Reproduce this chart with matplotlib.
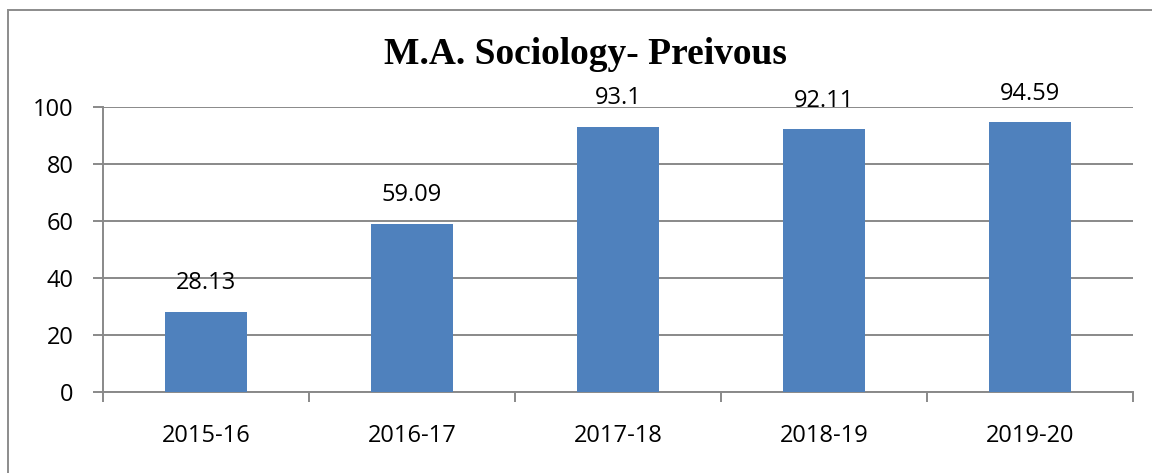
import matplotlib.pyplot as plt
import matplotlib.patches as patches
import numpy as np

years = ['2015-16', '2016-17', '2017-18', '2018-19', '2019-20']
values = [28.13, 59.09, 93.1, 92.11, 94.59]
labels = ['28.13', '59.09', '93.1', '92.11', '94.59']

plt.rcParams['font.family'] = ['Open Sans', 'DejaVu Sans']

fig = plt.figure(figsize=(11.52, 4.73), dpi=100)
ax = fig.add_axes([103 / 1152, 1 - 392 / 473, 1030 / 1152, 285 / 473])

grid_c = '#898989'
x = np.arange(len(years))
ax.bar(x, values, width=0.4, color='#4F81BD', zorder=3)

for xi, v, lab in zip(x, values, labels):
    ax.annotate(lab, (xi, v), xytext=(0, 12), textcoords='offset points',
                ha='center', va='bottom', fontsize=17)

ax.set_xlim(-0.5, len(years) - 0.5)
ax.set_ylim(0, 100)
ax.set_yticks(range(0, 101, 20))
ax.yaxis.grid(True, color=grid_c, linewidth=1.4, zorder=0)
ax.set_axisbelow(True)

ax.set_xticks(x)
ax.set_xticklabels(years, fontsize=17)
ax.set_xticks(np.arange(-0.5, len(years), 1), minor=True)
ax.tick_params(axis='x', which='major', length=0, pad=23)
ax.tick_params(axis='x', which='minor', length=7, width=1.4, color=grid_c)
ax.tick_params(axis='y', length=7, width=1.4, color=grid_c, labelsize=17, pad=14)

for s in ['top', 'right']:
    ax.spines[s].set_visible(False)
for s in ['left', 'bottom']:
    ax.spines[s].set_color(grid_c)
    ax.spines[s].set_linewidth(1.4)

fig.text(585 / 1152, 1 - 54 / 473, 'M.A. Sociology- Preivous', ha='center', va='center',
         fontsize=27, fontweight='bold', family='Liberation Serif')

frame = patches.Rectangle((8 / 1152, -0.1), 1.2, 1 - 10 / 473 + 0.1, transform=fig.transFigure,
                          fill=False, edgecolor='#8c8c8c', linewidth=1.4)
fig.patches.append(frame)

fig.savefig('out.png', dpi=100)
